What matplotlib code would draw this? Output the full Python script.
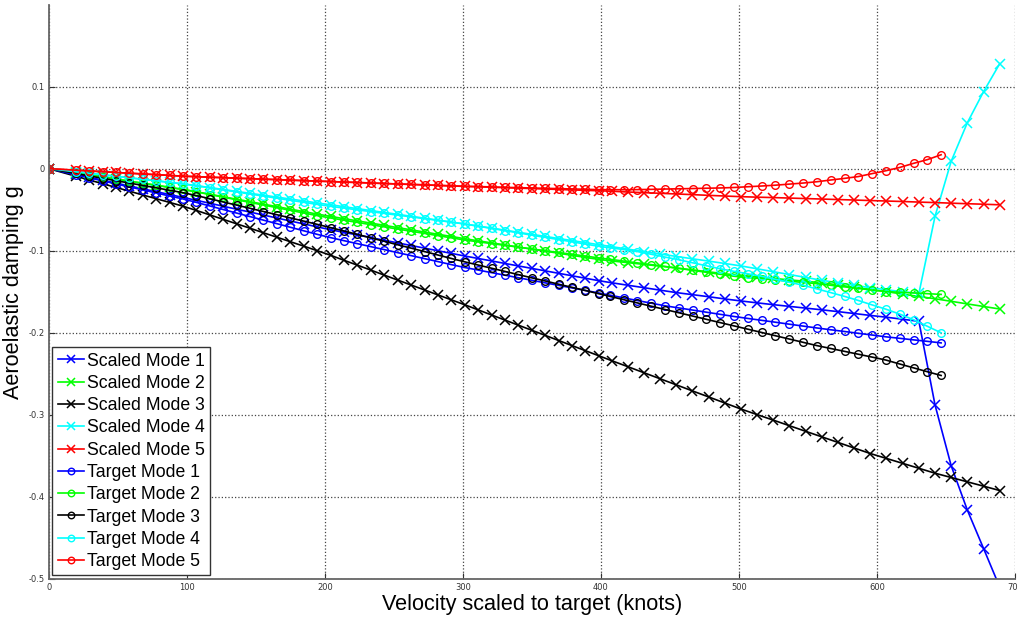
import matplotlib
matplotlib.use('Agg')
import matplotlib.pyplot as plt

# Velocidades (knots) - varredura comum ate ~400 kn
v_low = [0, 19.4, 29.2, 38.9, 48.6, 58.3, 68.0, 77.8, 87.5, 97.2,
         106.9, 116.6, 126.4, 136.1, 145.8, 155.5, 165.2, 175.0, 184.7, 194.4,
         204.1, 213.8, 223.6, 233.3, 243.0, 252.7, 262.4, 272.2, 281.9, 291.6,
         301.3, 311.0, 320.8, 330.5, 340.2, 349.9, 359.6, 369.4, 379.1, 388.8, 398.5]
scaled_v_high = [407.7, 419.4, 431.1, 442.9, 454.6, 466.3, 478.0, 489.7, 501.5, 513.2,
                 524.9, 536.6, 548.3, 560.1, 571.8, 583.5, 595.2, 606.9, 618.7, 630.4,
                 642.1, 653.8, 665.5, 677.3, 689.0]
target_v_high = [406.5, 416.5, 426.5, 436.5, 446.5, 456.5, 466.5, 476.5, 486.5, 496.5,
                 506.5, 516.5, 526.5, 536.5, 546.5, 556.5, 566.5, 576.5, 586.5, 596.5,
                 606.5, 616.5, 626.5, 636.5, 646.5]
scaled_v = v_low + scaled_v_high
target_v = v_low + target_v_high

# Amortecimento aeroelastico g - modos escalados
scaled_1 = [0, -0.0070, -0.0105, -0.0140, -0.0175, -0.0210, -0.0245, -0.0280, -0.0315, -0.0350,
            -0.0386, -0.0421, -0.0458, -0.0494, -0.0529, -0.0565, -0.0601, -0.0638, -0.0673, -0.0709,
            -0.0744, -0.0776, -0.0808, -0.0840, -0.0872, -0.0904, -0.0936, -0.0968, -0.1000, -0.1032,
            -0.1064, -0.1094, -0.1124, -0.1155, -0.1185, -0.1215, -0.1245, -0.1275, -0.1305, -0.1335, -0.1365,
            -0.1390, -0.1420, -0.1450, -0.1480, -0.1510, -0.1535, -0.1560, -0.1587, -0.1612, -0.1635,
            -0.1657, -0.1678, -0.1699, -0.1720, -0.1742, -0.1765, -0.1788, -0.1810, -0.1835, -0.1860,
            -0.2880, -0.3620, -0.4160, -0.4630, -0.5100]
scaled_2 = [0, -0.0050, -0.0076, -0.0101, -0.0126, -0.0152, -0.0177, -0.0202, -0.0228, -0.0253,
            -0.0281, -0.0311, -0.0342, -0.0372, -0.0402, -0.0432, -0.0462, -0.0493, -0.0523, -0.0553,
            -0.0581, -0.0609, -0.0636, -0.0663, -0.0690, -0.0718, -0.0745, -0.0772, -0.0799, -0.0826,
            -0.0853, -0.0879, -0.0904, -0.0929, -0.0955, -0.0980, -0.1005, -0.1030, -0.1056, -0.1081, -0.1106,
            -0.1124, -0.1145, -0.1166, -0.1188, -0.1210, -0.1233, -0.1257, -0.1280, -0.1302, -0.1320,
            -0.1337, -0.1355, -0.1372, -0.1390, -0.1417, -0.1444, -0.1471, -0.1498, -0.1529, -0.1557,
            -0.1585, -0.1616, -0.1648, -0.1679, -0.1710]
scaled_3 = [0, -0.0091, -0.0137, -0.0183, -0.0228, -0.0274, -0.0320, -0.0366, -0.0411, -0.0457,
            -0.0509, -0.0563, -0.0618, -0.0672, -0.0726, -0.0781, -0.0835, -0.0890, -0.0944, -0.0999,
            -0.1055, -0.1116, -0.1176, -0.1236, -0.1297, -0.1357, -0.1417, -0.1478, -0.1538, -0.1598,
            -0.1658, -0.1720, -0.1783, -0.1845, -0.1907, -0.1969, -0.2031, -0.2094, -0.2156, -0.2218, -0.2280,
            -0.2339, -0.2412, -0.2486, -0.2560, -0.2634, -0.2708, -0.2781, -0.2855, -0.2929, -0.2997,
            -0.3064, -0.3132, -0.3200, -0.3268, -0.3336, -0.3404, -0.3471, -0.3531, -0.3591, -0.3651,
            -0.3711, -0.3763, -0.3816, -0.3869, -0.3922]
scaled_4 = [0, -0.0037, -0.0055, -0.0074, -0.0092, -0.0111, -0.0129, -0.0148, -0.0166, -0.0185,
            -0.0207, -0.0230, -0.0253, -0.0277, -0.0300, -0.0323, -0.0346, -0.0370, -0.0393, -0.0417,
            -0.0440, -0.0463, -0.0487, -0.0510, -0.0533, -0.0556, -0.0580, -0.0603, -0.0627, -0.0650,
            -0.0673, -0.0699, -0.0724, -0.0749, -0.0775, -0.0800, -0.0825, -0.0851, -0.0876, -0.0901, -0.0926,
            -0.0950, -0.0980, -0.1010, -0.1040, -0.1069, -0.1098, -0.1126, -0.1155, -0.1185, -0.1220,
            -0.1255, -0.1290, -0.1325, -0.1360, -0.1390, -0.1420, -0.1450, -0.1475, -0.1500, -0.1520,
            -0.0580, 0.0090, 0.0560, 0.0940, 0.1280]
scaled_5 = [0, -0.0018, -0.0027, -0.0037, -0.0046, -0.0055, -0.0064, -0.0073, -0.0082, -0.0091,
            -0.0098, -0.0104, -0.0110, -0.0116, -0.0122, -0.0128, -0.0134, -0.0140, -0.0146, -0.0152,
            -0.0157, -0.0163, -0.0169, -0.0175, -0.0181, -0.0187, -0.0192, -0.0198, -0.0204, -0.0210,
            -0.0216, -0.0221, -0.0226, -0.0232, -0.0237, -0.0242, -0.0248, -0.0253, -0.0259, -0.0264, -0.0269,
            -0.0275, -0.0284, -0.0292, -0.0300, -0.0308, -0.0316, -0.0325, -0.0333, -0.0341, -0.0347,
            -0.0352, -0.0358, -0.0364, -0.0370, -0.0376, -0.0382, -0.0388, -0.0394, -0.0400, -0.0407,
            -0.0413, -0.0420, -0.0427, -0.0433, -0.0440]

# Amortecimento aeroelastico g - modos alvo
target_1 = [0, -0.0074, -0.0111, -0.0148, -0.0185, -0.0222, -0.0258, -0.0296, -0.0333, -0.0369,
            -0.0411, -0.0454, -0.0498, -0.0541, -0.0584, -0.0627, -0.0670, -0.0714, -0.0757, -0.0800,
            -0.0840, -0.0877, -0.0914, -0.0950, -0.0986, -0.1023, -0.1059, -0.1096, -0.1132, -0.1169,
            -0.1204, -0.1235, -0.1267, -0.1298, -0.1329, -0.1360, -0.1391, -0.1422, -0.1453, -0.1484, -0.1515,
            -0.1541, -0.1574, -0.1607, -0.1639, -0.1671, -0.1697, -0.1723, -0.1749, -0.1775, -0.1801,
            -0.1825, -0.1848, -0.1871, -0.1895, -0.1918, -0.1941, -0.1963, -0.1984, -0.2006, -0.2027,
            -0.2049, -0.2067, -0.2086, -0.2104, -0.2123]
target_2 = [0, -0.0050, -0.0076, -0.0101, -0.0126, -0.0152, -0.0177, -0.0202, -0.0228, -0.0253,
            -0.0283, -0.0315, -0.0347, -0.0379, -0.0411, -0.0443, -0.0475, -0.0508, -0.0540, -0.0572,
            -0.0601, -0.0628, -0.0655, -0.0682, -0.0709, -0.0736, -0.0762, -0.0789, -0.0816, -0.0843,
            -0.0869, -0.0891, -0.0913, -0.0934, -0.0956, -0.0978, -0.1000, -0.1021, -0.1043, -0.1065, -0.1087,
            -0.1104, -0.1126, -0.1148, -0.1169, -0.1191, -0.1215, -0.1239, -0.1263, -0.1287, -0.1311,
            -0.1326, -0.1341, -0.1356, -0.1371, -0.1386, -0.1401, -0.1421, -0.1440, -0.1460, -0.1479,
            -0.1497, -0.1506, -0.1514, -0.1523, -0.1532]
target_3 = [0, -0.0058, -0.0088, -0.0117, -0.0146, -0.0175, -0.0204, -0.0233, -0.0263, -0.0292,
            -0.0328, -0.0366, -0.0406, -0.0444, -0.0483, -0.0522, -0.0561, -0.0600, -0.0639, -0.0678,
            -0.0718, -0.0759, -0.0801, -0.0843, -0.0885, -0.0927, -0.0968, -0.1010, -0.1052, -0.1094,
            -0.1135, -0.1174, -0.1213, -0.1252, -0.1291, -0.1330, -0.1368, -0.1408, -0.1446, -0.1485, -0.1524,
            -0.1556, -0.1596, -0.1636, -0.1676, -0.1716, -0.1756, -0.1796, -0.1836, -0.1876, -0.1916,
            -0.1956, -0.1996, -0.2036, -0.2076, -0.2116, -0.2156, -0.2191, -0.2226, -0.2261, -0.2296,
            -0.2332, -0.2380, -0.2427, -0.2474, -0.2520]
target_4 = [0, -0.0037, -0.0055, -0.0074, -0.0092, -0.0111, -0.0129, -0.0148, -0.0166, -0.0185,
            -0.0208, -0.0233, -0.0259, -0.0284, -0.0309, -0.0334, -0.0360, -0.0385, -0.0410, -0.0435,
            -0.0459, -0.0480, -0.0502, -0.0523, -0.0545, -0.0566, -0.0587, -0.0609, -0.0630, -0.0652,
            -0.0674, -0.0701, -0.0728, -0.0755, -0.0782, -0.0810, -0.0837, -0.0864, -0.0891, -0.0919, -0.0946,
            -0.0965, -0.0985, -0.1010, -0.1043, -0.1077, -0.1110, -0.1147, -0.1183, -0.1220, -0.1251,
            -0.1281, -0.1312, -0.1348, -0.1384, -0.1420, -0.1465, -0.1510, -0.1556, -0.1606, -0.1660,
            -0.1712, -0.1772, -0.1840, -0.1920, -0.2000]
target_5 = [0, -0.0018, -0.0027, -0.0037, -0.0046, -0.0055, -0.0064, -0.0073, -0.0082, -0.0091,
            -0.0097, -0.0103, -0.0109, -0.0115, -0.0121, -0.0127, -0.0133, -0.0139, -0.0145, -0.0151,
            -0.0157, -0.0162, -0.0168, -0.0174, -0.0180, -0.0186, -0.0191, -0.0197, -0.0203, -0.0209,
            -0.0214, -0.0218, -0.0222, -0.0227, -0.0231, -0.0235, -0.0239, -0.0243, -0.0247, -0.0251, -0.0255,
            -0.0256, -0.0256, -0.0255, -0.0252, -0.0248, -0.0245, -0.0242, -0.0238, -0.0235, -0.0229,
            -0.0220, -0.0211, -0.0201, -0.0188, -0.0175, -0.0159, -0.0138, -0.0118, -0.0096, -0.0060,
            -0.0025, 0.0015, 0.0065, 0.0110, 0.0170]

colors = ['#0000ff', '#00ff00', '#000000', '#00ffff', '#ff0000']
scaled = [scaled_1, scaled_2, scaled_3, scaled_4, scaled_5]
target = [target_1, target_2, target_3, target_4, target_5]

fig = plt.figure(figsize=(10.18, 6.17), dpi=100)
ax = fig.add_axes([0.048, 0.0616, 0.949, 0.931])

for i in range(5):
    ax.plot(scaled_v, scaled[i], '-x', color=colors[i], lw=1.2, ms=7, mew=1.1,
            label='Scaled Mode %d' % (i + 1))
for i in range(5):
    ax.plot(target_v, target[i], '-o', color=colors[i], lw=1.2, ms=5.5, mew=1.0,
            mfc='none', label='Target Mode %d' % (i + 1))

ax.set_xlim(0, 700)
ax.set_ylim(-0.5, 0.2)
ax.set_xticks([0, 100, 200, 300, 400, 500, 600, 700])
ax.set_yticks([-0.5, -0.4, -0.3, -0.2, -0.1, 0, 0.1])
ax.set_yticklabels(['-0.5', '-0.4', '-0.3', '-0.2', '-0.1', '0', '0.1'])
ax.grid(True, linestyle=':', color='#444444', lw=0.9)
ax.tick_params(direction='in', length=4, labelsize=6, colors='#333333', pad=3)
for s in ['top', 'right']:
    ax.spines[s].set_visible(False)
for s in ['left', 'bottom']:
    ax.spines[s].set_color('#666666')
    ax.spines[s].set_linewidth(1.3)

ax.set_xlabel('Velocity scaled to target (knots)', fontsize=15.6, family='Liberation Sans', labelpad=1)
ax.set_ylabel('Aeroelastic damping g', fontsize=15.6, family='Liberation Sans', labelpad=3)

leg = ax.legend(loc='lower left', prop={'family': 'Liberation Sans', 'size': 12.7},
                fancybox=False, framealpha=1, edgecolor='#333333', borderaxespad=0.2,
                handlelength=1.5, handletextpad=0.15, labelspacing=0.3, borderpad=0.3,
                markerscale=0.85)
leg.get_frame().set_linewidth(1.0)

plt.savefig('out.png', dpi=100)
